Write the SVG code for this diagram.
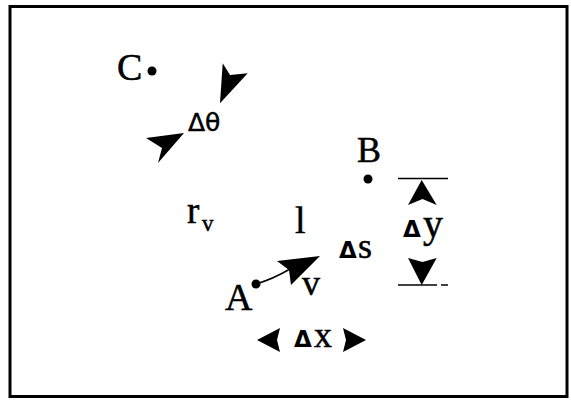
<svg xmlns="http://www.w3.org/2000/svg" width="571" height="402" viewBox="0 0 571 402">
<style>
.lbl{font-family:"Liberation Serif","Times New Roman",serif;fill:#000;stroke:#000;stroke-width:0.5}
.dl{font-family:"DejaVu Sans",sans-serif;font-weight:bold;fill:#000}
.dt{font-family:"DejaVu Sans",sans-serif;fill:#000;stroke:#000;stroke-width:0.5}
.head{fill:#000;stroke:none}
.ln{stroke:#000;stroke-width:1.5;fill:none}
.dot{fill:#000}
</style>
<rect x="10" y="6.5" width="557" height="390" fill="#fff" stroke="#000" stroke-width="3"/>
<g id="pointC">
<text class="lbl" x="117" y="80" font-size="38">C</text>
<circle class="dot" cx="152" cy="71" r="4.5"/>
</g>
<g id="pointB">
<text class="lbl" x="357" y="162" font-size="36">B</text>
<circle class="dot" cx="368" cy="179" r="4.5"/>
</g>
<g id="pointA">
<text class="lbl" x="225" y="310" font-size="38">A</text>
<circle class="dot" cx="256" cy="284" r="4.5"/>
</g>
<g id="label-dtheta">
<text class="dt" x="188" y="131" font-size="25">Δθ</text>
</g>
<g id="label-rv">
<text class="lbl" x="187" y="223" font-size="37">r</text>
<text class="lbl" x="202" y="231" font-size="23">v</text>
</g>
<g id="label-l">
<text class="lbl" x="295" y="233" font-size="38">l</text>
</g>
<g id="label-v">
<text class="lbl" x="302" y="295" font-size="36">v</text>
</g>
<g id="label-ds">
<text class="dl" x="339" y="258" font-size="23">Δ</text>
<text class="lbl" x="358" y="258" font-size="36">s</text>
</g>
<g id="label-dy">
<text class="dl" x="403" y="237" font-size="23">Δ</text>
<text class="lbl" x="423" y="237" font-size="40">y</text>
</g>
<g id="label-dx">
<text class="dl" x="294" y="347" font-size="23">Δ</text>
<text class="lbl" x="314" y="347" font-size="36">x</text>
</g>
<g id="connectors">
<polygon class="head" points="222.7,63.3 230,75 247.7,73.3 220,103.3"/>
<polygon class="head" points="146,138 184,133 158,163 162,148"/>
<path class="ln" d="M256,284 Q273,279 290,269"/>
<polygon class="head" points="320,256 291,285 289,270 277,261"/>
<line class="ln" x1="398" y1="178.5" x2="448" y2="178.5"/>
<polygon class="head" points="421.7,180 436.7,205 422.5,199 408,205"/>
<polygon class="head" points="408,258 422.5,262 436.7,258 421.7,285"/>
<line class="ln" x1="398" y1="285" x2="437" y2="285"/>
<line class="ln" x1="441" y1="285" x2="448" y2="285"/>
<polygon class="head" points="257,340 280,328 277,340 280,352"/>
<polygon class="head" points="366,340 343,328 346,340 343,352"/>
</g>
</svg>
